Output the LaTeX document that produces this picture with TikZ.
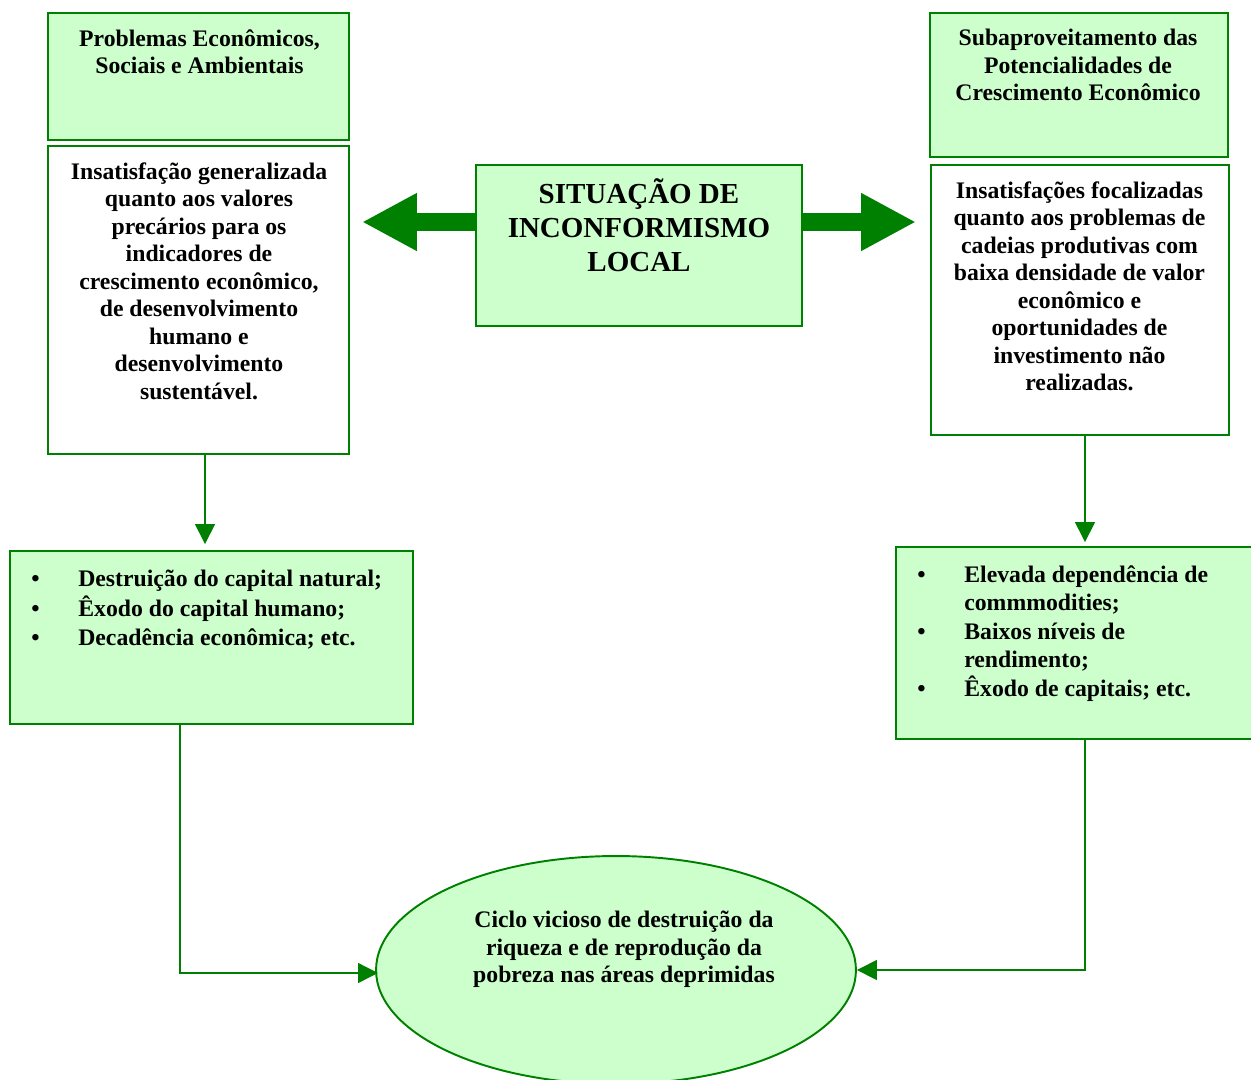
\documentclass[tikz,border=0pt]{standalone}
\usepackage{fontspec}
\setmainfont{Liberation Serif}
\usetikzlibrary{arrows.meta,shapes.geometric}
\definecolor{dkgreen}{HTML}{008000}
\definecolor{palegreen}{HTML}{CCFFCC}
\tikzset{
  framebox/.style={draw=dkgreen, line width=1.1pt, inner sep=0pt},
  greenbox/.style={framebox, fill=palegreen},
  whitebox/.style={framebox, fill=white},
  txt/.style={inner sep=0pt, align=center, font=\bfseries\fontsize{13.5pt}{15.65pt}\selectfont},
  bigtxt/.style={inner sep=0pt, align=center, font=\bfseries\fontsize{16.5pt}{19.3pt}\selectfont},
  blockarrow/.style={draw=dkgreen, line width=0.36cm, -{Triangle[length=1.1cm,width=1.08cm]}},
  conn/.style={draw=dkgreen, line width=0.8pt, -{Triangle[length=0.4cm,width=0.4cm]}},
}
\begin{document}
\begin{tikzpicture}[x=0.02cm, y=-0.02cm]
\useasboundingbox (0,0) rectangle (1251,1079);

% left column
\node[greenbox, minimum width=6.02cm, minimum height=2.54cm] (probbox) at (198.5,76.5) {};
\node[txt, anchor=north] (probtxt) at (199.5,29) {Problemas Econômicos,\\Sociais e Ambientais};
\node[whitebox, minimum width=6.02cm, minimum height=6.16cm] (insbox) at (198.5,300) {};
\node[txt, anchor=north] (instxt) at (199,162) {Insatisfação generalizada\\quanto aos valores\\precários para os\\indicadores de\\crescimento econômico,\\de desenvolvimento\\humano e\\desenvolvimento\\sustentável.};

% central box
\node[greenbox, minimum width=6.52cm, minimum height=3.22cm] (ctr) at (639,245.5) {};
\node[bigtxt, anchor=north] (ctrtxt) at (639,178) {SITUAÇÃO DE\\INCONFORMISMO\\LOCAL};

% right column
\node[greenbox, minimum width=5.96cm, minimum height=2.88cm] (subbox) at (1079,85) {};
\node[txt, anchor=north] (subtxt) at (1078,29) {Subaproveitamento das\\Potencialidades de\\Crescimento Econômico};
\node[whitebox, minimum width=5.96cm, minimum height=5.4cm] (focbox) at (1080,300) {};
\node[txt, anchor=north] (foctxt) at (1079.5,181) {Insatisfações focalizadas\\quanto aos problemas de\\cadeias produtivas com\\baixa densidade de valor\\econômico e\\oportunidades de\\investimento não\\realizadas.};

% consequence boxes
\node[greenbox, minimum width=8.06cm, minimum height=3.46cm] (lossbox) at (211.5,637.5) {};
\node[inner sep=0pt, anchor=north west, font=\bfseries\fontsize{13.5pt}{16.7pt}\selectfont] (losstxt) at (31,566)
  {\begin{tabular}{@{}p{0.94cm}@{}l@{}}
   •&Destruição do capital natural;\\
   •&Êxodo do capital humano;\\
   •&Decadência econômica; etc.
   \end{tabular}};
\node[greenbox, minimum width=7.4cm, minimum height=3.84cm] (depbox) at (1081,643) {};
\node[inner sep=0pt, anchor=north west, font=\bfseries\fontsize{13.5pt}{16.2pt}\selectfont] (deptxt) at (917,562)
  {\begin{tabular}{@{}p{0.94cm}@{}l@{}}
   •&Elevada dependência de\\
    &commmodities;\\
   •&Baixos níveis de\\
    &rendimento;\\
   •&Êxodo de capitais; etc.
   \end{tabular}};

% outcome
\node[ellipse, greenbox, minimum width=9.6cm, minimum height=4.56cm] (cyc) at (616,970) {};
\node[txt, anchor=north] (cyctxt) at (624,911) {Ciclo vicioso de destruição da\\riqueza e de reprodução da\\pobreza nas áreas deprimidas};

% block arrows out of the central box
\coordinate (ltip) at (362,222);
\coordinate (rtip) at (916,222);
\draw[blockarrow] (ctr.west |- ltip) -- (ltip);
\draw[blockarrow] (ctr.east |- rtip) -- (rtip);

% thin connectors
\coordinate (lx) at (205,0);
\coordinate (rx) at (1085,0);
\coordinate (lb) at (180,0);
\coordinate (cycin) at (378,973);
\draw[conn, shorten >=0.12cm] (insbox.south -| lx) -- (lossbox.north -| lx);
\draw[conn, shorten >=0.08cm] (focbox.south -| rx) -- (depbox.north -| rx);
\draw[conn] (lossbox.south -| lb) |- (cycin);
\draw[conn] (depbox.south -| rx) |- (cyc.east);
\end{tikzpicture}
\end{document}
